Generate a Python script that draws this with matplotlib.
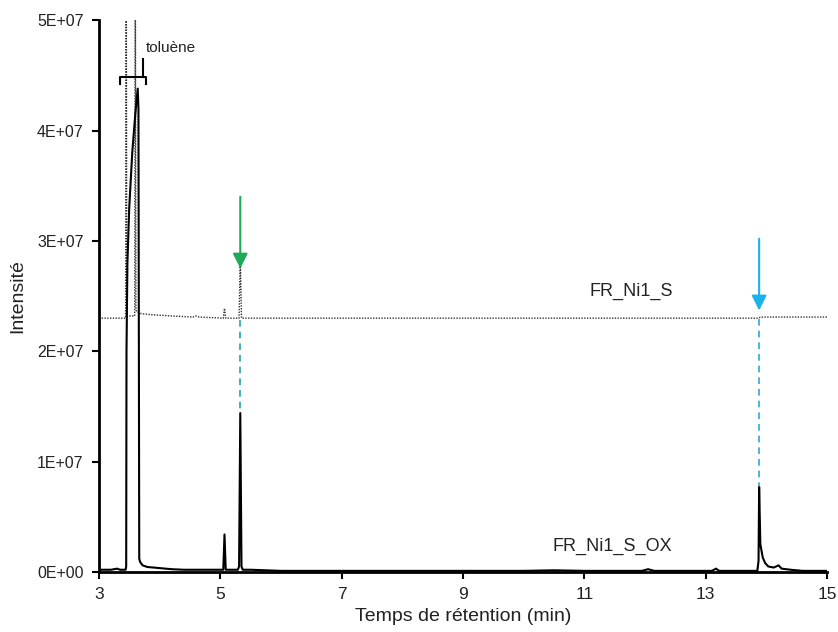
import matplotlib
matplotlib.use("Agg")
import matplotlib.pyplot as plt
from matplotlib.ticker import FuncFormatter

plt.rcParams['font.family'] = ['Liberation Sans', 'DejaVu Sans']

# ---- data (intensity in units of 1E+07) ----
ox_time = [3.0, 3.2, 3.3, 3.35, 3.44, 3.45, 3.455, 3.47, 3.5, 3.55, 3.6, 3.64, 3.652,
           3.665, 3.68, 3.72, 3.8, 3.9, 4.0, 4.2, 4.4, 4.6, 4.8, 5.0, 5.05, 5.07, 5.09,
           5.12, 5.29, 5.31, 5.33, 5.35, 5.37, 5.5, 6.0, 7.0, 8.0, 9.0, 10.0, 10.5, 11.0,
           11.95, 12.05, 12.15, 12.5, 13.1, 13.17, 13.22, 13.5, 13.85, 13.87, 13.88,
           13.9, 13.94, 13.98, 14.03, 14.12, 14.2, 14.25, 14.4, 14.6, 15.0]
ox_int = [0.02, 0.02, 0.03, 0.02, 0.02, 0.05, 2.0, 2.8, 3.3, 3.8, 4.15, 4.38, 4.2,
          0.12, 0.09, 0.06, 0.045, 0.04, 0.035, 0.025, 0.02, 0.02, 0.02, 0.02, 0.02, 0.34, 0.02,
          0.02, 0.02, 0.05, 1.44, 0.05, 0.02, 0.02, 0.01, 0.01, 0.01, 0.01, 0.01, 0.015, 0.01,
          0.01, 0.025, 0.01, 0.01, 0.01, 0.03, 0.01, 0.01, 0.01, 0.1, 0.77,
          0.25, 0.13, 0.08, 0.05, 0.04, 0.06, 0.03, 0.02, 0.01, 0.01]

s_time = [3.0, 3.3, 3.44, 3.45, 3.46, 3.59, 3.6, 3.61, 3.62, 3.7, 3.9, 4.2, 4.55, 4.6,
          4.65, 5.05, 5.07, 5.09, 5.31, 5.33, 5.35, 6.0, 8.0, 10.0, 12.0, 13.87, 13.9, 15.0]
s_int = [2.30, 2.30, 2.30, 6.0, 2.32, 2.32, 6.0, 2.4, 2.36, 2.34, 2.33, 2.32, 2.31, 2.32,
         2.31, 2.30, 2.39, 2.30, 2.30, 2.86, 2.30, 2.30, 2.30, 2.30, 2.30, 2.30, 2.31, 2.31]

x_ticks = [3, 5, 7, 9, 11, 13, 15]
y_ticks = [0, 1, 2, 3, 4, 5]
SCALE = 1e7
TXT = '#222222'

fig = plt.figure(figsize=(8.38, 6.32), dpi=100)
ax = fig.add_axes([0.118, 0.095, 0.869, 0.873])

ax.plot(s_time, [v * SCALE for v in s_int], color='#333333', lw=1.0,
        linestyle=(0, (1, 1)))
ax.plot(ox_time, [v * SCALE for v in ox_int], color='black', lw=1.5)

# marker lines and arrows
green_x, blue_x = 5.33, 13.88
ax.plot([green_x, green_x], [2.28 * SCALE, 1.45 * SCALE], color='#25a6a0', lw=1.2,
        linestyle=(0, (4, 3)))
ax.plot([blue_x, blue_x], [2.29 * SCALE, 0.78 * SCALE], color='#2aa8e0', lw=1.2,
        linestyle=(0, (4, 3)))
ax.annotate('', xy=(green_x, 2.75 * SCALE), xytext=(green_x, 3.4 * SCALE),
            arrowprops=dict(arrowstyle='-|>,head_length=0.9,head_width=0.45',
                            color='#1faa59', lw=1.5, shrinkA=0, shrinkB=0))
ax.annotate('', xy=(blue_x, 2.37 * SCALE), xytext=(blue_x, 3.02 * SCALE),
            arrowprops=dict(arrowstyle='-|>,head_length=0.9,head_width=0.45',
                            color='#1ab2ea', lw=1.5, shrinkA=0, shrinkB=0))

# toluene bracket
ax.plot([3.35, 3.35, 3.78, 3.78], [4.42 * SCALE, 4.49 * SCALE, 4.49 * SCALE, 4.42 * SCALE],
        color='black', lw=1.5)
ax.plot([3.72, 3.72], [4.49 * SCALE, 4.65 * SCALE], color='black', lw=1.5)
ax.text(3.77, 4.75 * SCALE, 'toluène', fontsize=11, va='center', ha='left', color=TXT)

ax.text(11.09, 2.54 * SCALE, 'FR_Ni1_S', fontsize=13, va='center', ha='left', color=TXT)
ax.text(10.48, 0.23 * SCALE, 'FR_Ni1_S_OX', fontsize=13, va='center', ha='left', color=TXT)

ax.set_xlim(3, 15)
ax.set_ylim(0, 5 * SCALE)
ax.set_xticks(x_ticks)
ax.set_yticks([v * SCALE for v in y_ticks])
ax.yaxis.set_major_formatter(FuncFormatter(lambda v, p: f"{int(round(v / SCALE))}E+{'07' if v else '00'}"))
ax.tick_params(axis='x', labelsize=12.5, direction='out', length=5, width=1.5, pad=6,
               labelcolor=TXT)
ax.tick_params(axis='y', labelsize=11.5, direction='out', length=5, width=1.5, pad=6,
               labelcolor=TXT)
for side in ['top', 'right']:
    ax.spines[side].set_visible(False)
for side in ['left', 'bottom']:
    ax.spines[side].set_linewidth(2)
ax.set_xlabel('Temps de rétention (min)', fontsize=14, labelpad=4, color=TXT)
ax.set_ylabel('Intensité', fontsize=14, labelpad=8, color=TXT)

fig.savefig('out.png', dpi=100)
